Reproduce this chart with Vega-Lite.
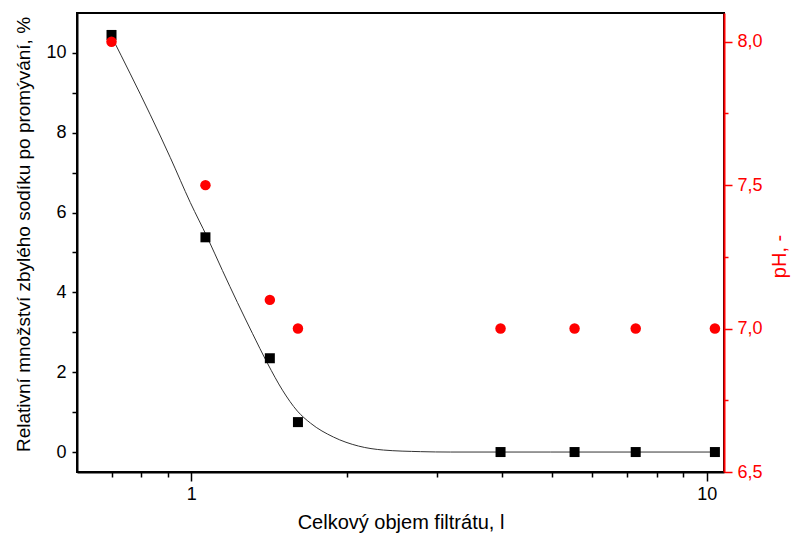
{
  "$schema": "https://vega.github.io/schema/vega-lite/v6.json",
  "width": 647,
  "height": 459,
  "autosize": {"type": "none"},
  "padding": {"left": 77, "top": 13, "right": 68, "bottom": 65},
  "background": "white",
  "config": {
    "view": {"stroke": "black", "strokeWidth": 2},
    "font": "Liberation Sans",
    "axis": {
      "grid": false,
      "labelFont": "Liberation Sans",
      "titleFont": "Liberation Sans",
      "labelFontSize": 18,
      "titleFontSize": 20,
      "titleFontWeight": "normal",
      "labelColor": "black",
      "titleColor": "black",
      "domainColor": "black",
      "tickColor": "black",
      "domainWidth": 2,
      "tickWidth": 1.5
    }
  },
  "datasets": {
    "meas": [
      {"V": 0.70, "Na": 10.45, "pH": 8.0},
      {"V": 1.065, "Na": 5.38, "pH": 7.5},
      {"V": 1.42, "Na": 2.35, "pH": 7.1},
      {"V": 1.61, "Na": 0.75, "pH": 7.0},
      {"V": 3.98, "Na": 0.0, "pH": 7.0},
      {"V": 5.54, "Na": 0.0, "pH": 7.0},
      {"V": 7.28, "Na": 0.0, "pH": 7.0},
      {"V": 10.37, "Na": 0.0, "pH": 7.0}
    ],
    "fit": [
      {"V": 0.7025, "Na": 10.375},
      {"V": 0.7613, "Na": 9.475},
      {"V": 0.8325, "Na": 8.45},
      {"V": 0.9104, "Na": 7.375},
      {"V": 0.9955, "Na": 6.25},
      {"V": 1.0742, "Na": 5.375},
      {"V": 1.1489, "Na": 4.55},
      {"V": 1.2283, "Na": 3.75},
      {"V": 1.3136, "Na": 2.975},
      {"V": 1.4048, "Na": 2.225},
      {"V": 1.5025, "Na": 1.55},
      {"V": 1.6063, "Na": 1.025},
      {"V": 1.7025, "Na": 0.725},
      {"V": 1.8872, "Na": 0.375},
      {"V": 2.1098, "Na": 0.15},
      {"V": 2.3598, "Na": 0.05},
      {"V": 2.7846, "Na": 0.01},
      {"V": 3.1836, "Na": 0.0},
      {"V": 4.98, "Na": 0.0},
      {"V": 10.37, "Na": 0.0}
    ]
  },
  "layer": [
    {
      "layer": [
        {
          "data": {"name": "fit"},
          "mark": {"type": "line", "color": "#333333", "strokeWidth": 1, "interpolate": "monotone"},
          "encoding": {
            "x": {
              "field": "V", "type": "quantitative",
              "scale": {"type": "log", "domain": [0.6, 10.8], "nice": false},
              "axis": {
                "title": "Celkový objem filtrátu, l",
                "values": [0.7, 0.8, 0.9, 1, 2, 3, 4, 5, 6, 7, 8, 9, 10],
                "labelExpr": "datum.value == 1 || datum.value == 10 ? format(datum.value, 'd') : ''",
                "tickSize": {"condition": {"test": "datum.value == 1 || datum.value == 10", "value": 9}, "value": 5},
                "labelPadding": 4,
                "labelOverlap": false,
                "labelBound": false,
                "titlePadding": 9
              }
            },
            "y": {
              "field": "Na", "type": "quantitative",
              "scale": {"domain": [-0.5, 11], "nice": false, "zero": false},
              "axis": {
                "title": "Relativní množství zbylého sodíku po promývání, %",
                "titleFontSize": 19,
                "titleY": 221,
                "values": [0, 1, 2, 3, 4, 5, 6, 7, 8, 9, 10],
                "labelExpr": "datum.value % 2 == 0 ? format(datum.value, 'd') : ''",
                "tickSize": 5,
                "labelPadding": 6,
                "labelOverlap": false,
                "titlePadding": 12
              }
            }
          }
        },
        {
          "data": {"name": "meas"},
          "mark": {"type": "square", "size": 100, "color": "black", "opacity": 1},
          "encoding": {
            "x": {"field": "V", "type": "quantitative"},
            "y": {"field": "Na", "type": "quantitative"}
          }
        }
      ]
    },
    {
      "data": {"name": "meas"},
      "mark": {"type": "circle", "size": 110, "color": "#ff0000", "opacity": 1},
      "encoding": {
        "x": {"field": "V", "type": "quantitative"},
        "y": {
          "field": "pH", "type": "quantitative",
          "scale": {"domain": [6.5, 8.1], "nice": false, "zero": false},
          "axis": {
            "orient": "right",
            "title": "pH, -",
            "titleAngle": 270,
            "titleY": 243,
            "titleColor": "#ff0000",
            "labelColor": "#ff0000",
            "domainColor": "#ff0000",
            "tickColor": "#ff0000",
            "values": [6.5, 6.75, 7.0, 7.25, 7.5, 7.75, 8.0],
            "labelExpr": "(datum.value * 4) % 2 == 0 ? replace(format(datum.value, '.1f'), '.', ',') : ''",
            "tickSize": {"condition": {"test": "(datum.value * 4) % 2 == 0", "value": 8}, "value": 4},
            "labelPadding": 5,
            "labelOverlap": false,
            "labelBound": false,
            "titlePadding": 27
          }
        }
      }
    }
  ],
  "resolve": {"scale": {"y": "independent"}}
}
